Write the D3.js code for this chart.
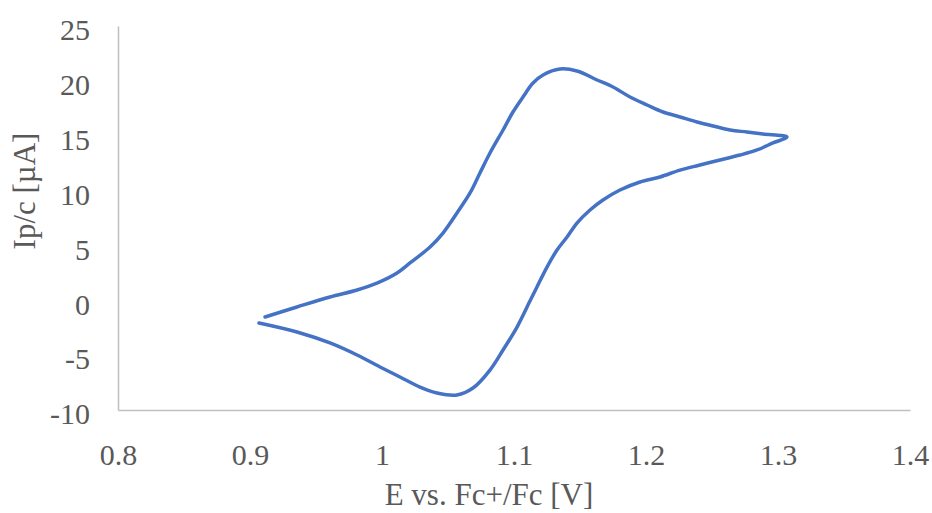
<!DOCTYPE html>
<html>
<head>
<meta charset="utf-8">
<script src="https://cdn.jsdelivr.net/npm/d3@7"></script>
<style>
  body { margin: 0; background: #fff; }
  text { font-family: "Liberation Serif", "Times New Roman", serif; fill: #595959; }
</style>
</head>
<body>
<div id="chart"></div>
<script>
const svgWidth = 932;
const svgHeight = 513;
const margin = { top: 26, right: 22, bottom: 103, left: 118 };
const width = svgWidth - margin.left - margin.right;
const height = svgHeight - margin.top - margin.bottom;

// forward sweep (upper branch), then reverse sweep (lower branch)
const potential = [
  0.9114, 0.9356, 0.9606, 0.9811, 0.9962, 1.0114, 1.0212, 1.0364, 1.0462, 1.0568,
  1.0667, 1.0742, 1.0818, 1.0917, 1.0992, 1.1068, 1.1144, 1.1220, 1.1348, 1.1477,
  1.1629, 1.1750, 1.1879, 1.2008, 1.2129, 1.2258, 1.2386, 1.2508, 1.2636, 1.2765,
  1.2886, 1.3068,
  1.2962, 1.2841, 1.2712, 1.2561, 1.2409, 1.2258, 1.2106, 1.1955, 1.1803, 1.1674,
  1.1576, 1.1477, 1.1402, 1.1326, 1.1250, 1.1174, 1.1121, 1.1023, 1.0917, 1.0818,
  1.0689, 1.0568, 1.0417, 1.0288, 1.0136, 0.9985, 0.9811, 0.9606, 0.9356, 0.9068
];
const current = [
  -1.52, -0.61, 0.30, 0.94, 1.57, 2.49, 3.40, 4.86, 6.13, 7.96,
  9.78, 11.60, 13.42, 15.52, 17.16, 18.53, 19.80, 20.53, 21.08, 20.90,
  20.08, 19.44, 18.53, 17.80, 17.16, 16.71, 16.25, 15.89, 15.52, 15.34,
  15.16, 14.88,
  14.34, 13.70, 13.24, 12.79, 12.33, 11.87, 11.24, 10.78, 10.05, 9.14,
  8.23, 7.04, 5.77, 4.58, 3.03, 1.21, -0.07, -2.44, -4.53, -6.36,
  -8.00, -8.63, -8.45, -7.91, -6.99, -6.08, -4.99, -3.89, -2.89, -2.07
];
const xTicks = [0.8, 0.9, 1.0, 1.1, 1.2, 1.3, 1.4];
const yTicks = [-10, -5, 0, 5, 10, 15, 20, 25];

const cvData = potential.map((e, i) => ({ e: e, i: current[i] }));

const svg = d3.select("#chart")
    .append("svg")
    .attr("width", svgWidth)
    .attr("height", svgHeight);

const chartGroup = svg.append("g")
    .attr("transform", `translate(${margin.left}, ${margin.top})`);

const xScale = d3.scaleLinear().domain([0.8, 1.4]).range([0, width]);
const yScale = d3.scaleLinear().domain([-10, 25]).range([height, 0]);

// axes: no tick marks, only the grey lines and labels
const bottomAxis = d3.axisBottom(xScale)
    .tickValues(xTicks)
    .tickSize(0)
    .tickPadding(34)
    .tickFormat(d => String(+d.toFixed(1)));
const leftAxis = d3.axisLeft(yScale)
    .tickValues(yTicks)
    .tickSize(0)
    .tickPadding(28)
    .tickFormat(d => String(d)); // plain hyphen like the original

const xAxis = chartGroup.append("g")
    .attr("transform", `translate(0, ${height})`)
    .call(bottomAxis);
const yAxis = chartGroup.append("g")
    .call(leftAxis);

[xAxis, yAxis].forEach(ax => {
    ax.select(".domain").attr("stroke", "#bfbfbf").attr("stroke-width", 1.5);
    ax.selectAll("text")
        .attr("fill", "#595959")
        .style("font-family", "'Liberation Serif', serif")
        .style("font-size", "30px");
});
yAxis.selectAll("text").attr("dy", "0.46em");

// the voltammogram
const line = d3.line()
    .x(d => xScale(d.e))
    .y(d => yScale(d.i))
    .curve(d3.curveCatmullRom);

chartGroup.append("path")
    .datum(cvData)
    .attr("fill", "none")
    .attr("stroke", "#4472c4")
    .attr("stroke-width", 3.5)
    .attr("stroke-linecap", "round")
    .attr("stroke-linejoin", "round")
    .attr("d", line);

// axis titles
chartGroup.append("text")
    .attr("x", width / 2 - 25)
    .attr("y", height + 95)
    .attr("text-anchor", "middle")
    .style("font-size", "31px")
    .text("E vs. Fc+/Fc [V]");

chartGroup.append("text")
    .attr("transform", "rotate(-90)")
    .attr("x", -height / 2 + 27)
    .attr("y", 0 - margin.left + 35)
    .attr("text-anchor", "middle")
    .style("font-size", "31px")
    .text("Ip/c [µA]");
</script>
</body>
</html>
